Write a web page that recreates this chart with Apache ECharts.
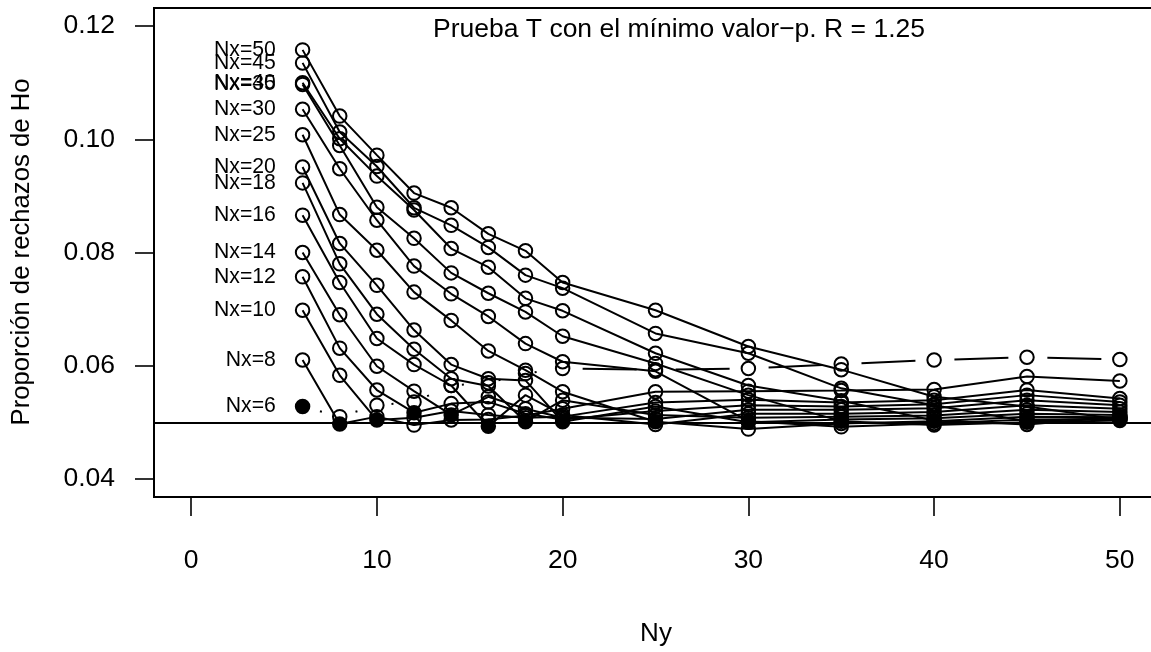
<!DOCTYPE html>
<html>
<head>
<meta charset="utf-8">
<script src="https://cdn.jsdelivr.net/npm/echarts@6/dist/echarts.min.js"></script>
<style>
  html, body { margin: 0; background: #fff; }
  #chart { width: 1151px; height: 652px; }
</style>
</head>
<body>
<div id="chart"></div>
<script>
// tamaños de muestra
const ny = [6, 8, 10, 12, 14, 16, 18, 20, 25, 30, 35, 40, 45, 50];
const nx = [6, 8, 10, 12, 14, 16, 18, 20, 25, 30, 35, 40, 45, 50];

// proporción de rechazos, una lista por Nx (valores en el orden de ny)
const p6  = [0.0528, 0.0510, 0.0530, 0.0536, 0.0565, 0.0570, 0.0586, 0.0595, 0.0593, 0.0595, 0.0603, 0.0610, 0.0615, 0.0611];
const p8  = [0.0610, 0.0497, 0.0510, 0.0495, 0.0504, 0.0505, 0.0512, 0.0524, 0.0554, 0.0555, 0.0556, 0.0558, 0.0581, 0.0573];
const p10 = [0.0698, 0.0583, 0.0504, 0.0508, 0.0520, 0.0513, 0.0508, 0.0510, 0.0535, 0.0540, 0.0535, 0.0539, 0.0557, 0.0542];
const p12 = [0.0757, 0.0631, 0.0557, 0.0517, 0.0533, 0.0536, 0.0515, 0.0505, 0.0520, 0.0530, 0.0528, 0.0532, 0.0548, 0.0536];
const p14 = [0.0800, 0.0690, 0.0599, 0.0555, 0.0513, 0.0545, 0.0524, 0.0508, 0.0506, 0.0522, 0.0522, 0.0525, 0.0539, 0.0530];
const p16 = [0.0866, 0.0747, 0.0648, 0.0602, 0.0565, 0.0493, 0.0548, 0.0513, 0.0496, 0.0515, 0.0515, 0.0518, 0.0530, 0.0524];
const p18 = [0.0923, 0.0780, 0.0691, 0.0629, 0.0577, 0.0564, 0.0501, 0.0539, 0.0513, 0.0508, 0.0510, 0.0512, 0.0522, 0.0518];
const p20 = [0.0951, 0.0816, 0.0742, 0.0663, 0.0602, 0.0577, 0.0574, 0.0501, 0.0528, 0.0500, 0.0505, 0.0507, 0.0515, 0.0513];
const p25 = [0.1008, 0.0867, 0.0804, 0.0730, 0.0680, 0.0626, 0.0592, 0.0554, 0.0501, 0.0488, 0.0498, 0.0502, 0.0510, 0.0509];
const p30 = [0.1053, 0.0948, 0.0857, 0.0776, 0.0727, 0.0687, 0.0639, 0.0607, 0.0590, 0.0502, 0.0492, 0.0498, 0.0505, 0.0506];
const p35 = [0.1097, 0.0989, 0.0880, 0.0825, 0.0764, 0.0728, 0.0695, 0.0652, 0.0604, 0.0548, 0.0502, 0.0495, 0.0500, 0.0503];
const p40 = [0.1100, 0.1001, 0.0935, 0.0875, 0.0807, 0.0774, 0.0719, 0.0697, 0.0622, 0.0565, 0.0538, 0.0503, 0.0496, 0.0510];
const p45 = [0.1135, 0.1013, 0.0952, 0.0879, 0.0848, 0.0809, 0.0760, 0.0737, 0.0657, 0.0622, 0.0560, 0.0530, 0.0502, 0.0508];
const p50 = [0.1158, 0.1041, 0.0972, 0.0905, 0.0879, 0.0833, 0.0803, 0.0747, 0.0698, 0.0634, 0.0593, 0.0545, 0.0528, 0.0505];
const curves = [p6, p8, p10, p12, p14, p16, p18, p20, p25, p30, p35, p40, p45, p50];

const alpha = 0.05;
const xTicks = [0, 10, 20, 30, 40, 50];
const yTicks = [0.04, 0.06, 0.08, 0.10, 0.12];

const FONT = '"Liberation Sans", Arial, Helvetica, sans-serif';
const LW = 2;

const chart = echarts.init(document.getElementById('chart'), null, { renderer: 'canvas' });

// puntos de una curva; relleno cuando Nx = Ny, rótulo en el primer punto
function points(k, vals, from, to, withLabel, skipFirst) {
  const out = [];
  for (let i = from; i < to; i++) {
    const item = { value: [ny[i], vals[i]] };
    if (ny[i] === k) item.itemStyle = { color: '#000' };
    if (withLabel && i === 0) {
      item.label = {
        show: true, position: 'left', distance: 19,
        formatter: 'Nx=' + k, fontSize: 21.2, color: '#000', fontFamily: FONT
      };
    }
    if (skipFirst && i === from) item.symbol = 'none';
    out.push(item);
  }
  return out;
}

function lineSeries(data, lineType, dashOffset) {
  return {
    type: 'line',
    data: data,
    symbol: 'circle',
    symbolSize: 13.5,
    showSymbol: true,
    lineStyle: { color: '#000', width: LW, type: lineType, dashOffset: dashOffset || 0 },
    itemStyle: { color: 'rgba(0,0,0,0)', borderColor: '#000', borderWidth: LW },
    label: { show: false },
    emphasis: { disabled: true },
    z: 3
  };
}

const series = [];
// Nx = 6: tramo punteado y luego a trazos largos
series.push(lineSeries(points(6, p6, 0, 8, true, false), [2, 35], 19));
series.push(lineSeries(points(6, p6, 7, ny.length, false, true), [54, 39], 73));
for (let j = 1; j < nx.length; j++) {
  series.push(lineSeries(points(nx[j], curves[j], 0, ny.length, true, false), 'solid'));
}
series[0].markLine = {
  silent: true, symbol: 'none', label: { show: false },
  lineStyle: { color: '#000', width: LW, type: 'solid' },
  data: [{ yAxis: alpha }]
};

chart.setOption({
  animation: false,
  backgroundColor: '#fff',
  grid: {
    left: 154, top: 8, width: 1003, height: 489,
    outerBoundsMode: 'none', containLabel: false,
    show: true, borderColor: '#000', borderWidth: LW, backgroundColor: 'transparent'
  },
  xAxis: {
    type: 'value', min: -2, max: 52,
    axisLine: { show: false, onZero: false },
    splitLine: { show: false },
    axisTick: { show: true, customValues: xTicks, length: 19, lineStyle: { color: '#000', width: 1.6 } },
    axisLabel: { customValues: xTicks, margin: 50, fontSize: 26.5, color: '#000', fontFamily: FONT }
  },
  yAxis: {
    type: 'value', min: 0.0368, max: 0.1232,
    axisLine: { show: false, onZero: false },
    splitLine: { show: false },
    axisTick: { show: true, customValues: yTicks, length: 19, lineStyle: { color: '#000', width: 1.6 } },
    axisLabel: {
      customValues: yTicks, margin: 39, fontSize: 26.5, color: '#000', fontFamily: FONT,
      formatter: v => v.toFixed(2)
    }
  },
  graphic: [
    {
      type: 'text', x: 679, y: 30,
      style: { text: 'Prueba T con el mínimo valor\u2212p. R = 1.25', font: '26.5px ' + FONT,
        fill: '#000', textAlign: 'center', textVerticalAlign: 'middle' }
    },
    {
      type: 'text', x: 21.5, y: 252, rotation: Math.PI / 2,
      style: { text: 'Proporción de rechazos de Ho', font: '25.7px ' + FONT,
        fill: '#000', textAlign: 'center', textVerticalAlign: 'middle' }
    },
    {
      type: 'text', x: 656, y: 634,
      style: { text: 'Ny', font: '26px ' + FONT,
        fill: '#000', textAlign: 'center', textVerticalAlign: 'middle' }
    }
  ],
  series: series
});
</script>
</body>
</html>
